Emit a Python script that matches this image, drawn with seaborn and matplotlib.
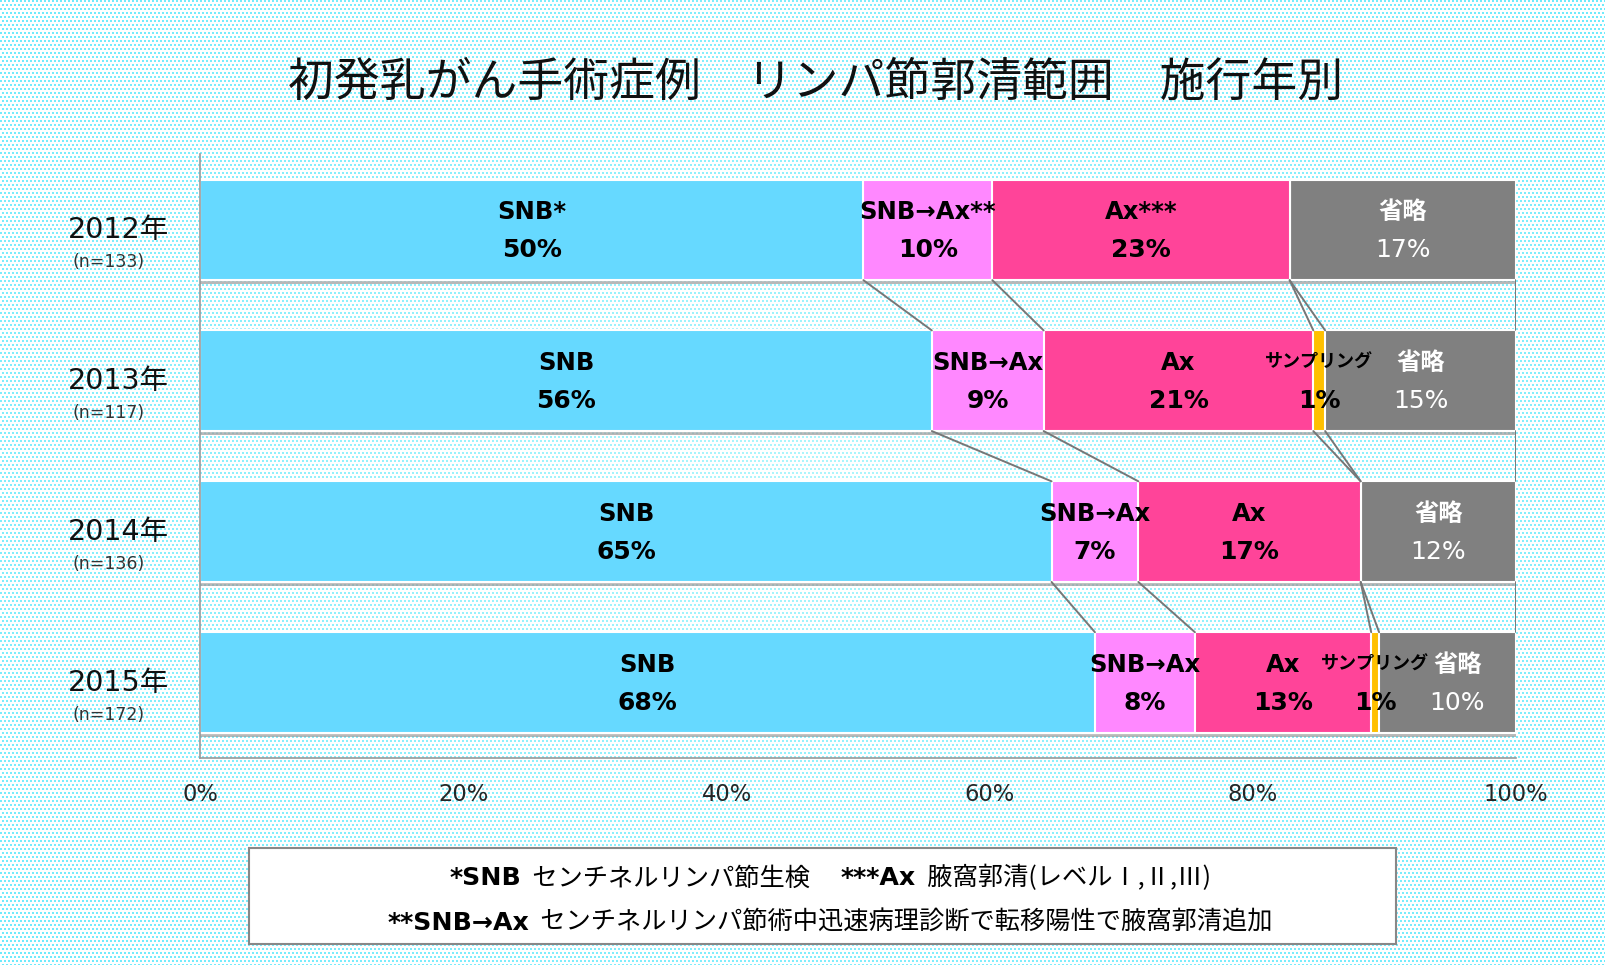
import numpy as np
import pandas as pd
import matplotlib
matplotlib.use("Agg")
import matplotlib.pyplot as plt
import matplotlib.patheffects as pe
from matplotlib.offsetbox import TextArea, HPacker, VPacker, AnnotationBbox
import seaborn as sns

# Values (percent of cases per year)
years = ["2012年", "2013年", "2014年", "2015年"]
n_labels = ["(n=133)", "(n=117)", "(n=136)", "(n=172)"]
snb = [50.4, 55.6, 64.7, 68.0]
snb_ax = [9.8, 8.5, 6.6, 7.6]
ax_only = [22.6, 20.5, 16.9, 13.4]
sampling = [0.0, 0.9, 0.0, 0.6]
omitted = [17.2, 14.5, 11.8, 10.4]

series_names = ["SNB", "SNB→Ax", "Ax", "サンプリング", "省略"]
first_row_names = ["SNB*", "SNB→Ax**", "Ax***", "サンプリング", "省略"]
pct_labels = [
    ["50%", "10%", "23%", "", "17%"],
    ["56%", "9%", "21%", "1%", "15%"],
    ["65%", "7%", "17%", "", "12%"],
    ["68%", "8%", "13%", "1%", "10%"],
]
colors = ["#66D9FF", "#FF88FF", "#FF4499", "#FFC000", "#808080"]
text_colors = ["black", "black", "black", "black", "white"]

title = "初発乳がん手術症例　リンパ節郭清範囲　施行年別"

sns.set_theme(style="white")
latin_first = ["DejaVu Sans", "Noto Sans CJK JP"]
cjk_first = ["Noto Sans CJK JP", "DejaVu Sans"]
plt.rcParams["font.family"] = latin_first

df = pd.DataFrame({"year": years, "SNB": snb, "SNB→Ax": snb_ax, "Ax": ax_only,
                   "サンプリング": sampling, "省略": omitted})
values = df[series_names].to_numpy()
cum = values.cumsum(axis=1)

W, H = 1606, 965
fig = plt.figure(figsize=(W / 100, H / 100), dpi=100)

# background: cyan dot pattern on white, dots a bit lighter towards the middle
yy, xx = np.mgrid[0:H, 0:W]
dots = (yy % 4 < 2) & ((xx + 2 * ((yy // 4) % 2)) % 4 < 2)
r = np.sqrt(((xx / W - 0.5) / 0.5) ** 2 + ((yy / H - 0.5) / 0.5) ** 2) / np.sqrt(2)
r = np.clip(r, 0, 1)[..., None]
dot_mid = np.array([175, 246, 252]) / 255
dot_edge = np.array([110, 234, 252]) / 255
dot_col = dot_mid + (dot_edge - dot_mid) * r
img = np.where(dots[..., None], dot_col, np.ones(3))
fig.figimage(img, xo=0, yo=0, origin="upper", zorder=-10)

ax = fig.add_axes([0.1248, 0.2145, 0.8191, 0.6255])
ax.set_facecolor("none")

bar_h = 0.667
# draw cumulative layers from the full bar down to the first segment
for k in range(len(series_names) - 1, -1, -1):
    n_before = len(ax.patches)
    sns.barplot(x=cum[:, k], y=years, orient="h", color=colors[k], saturation=1,
                width=bar_h, edgecolor="white", linewidth=1.5, ax=ax)
    if k == len(series_names) - 1:
        for p in ax.patches[n_before:]:
            p.set_path_effects([pe.SimplePatchShadow(offset=(0, -3), shadow_rgbFace="#9a9a9a", alpha=0.7),
                                pe.Normal()])

ax.set_xlim(0, 100)
ax.set_ylim(3.5, -0.5)

# series lines between bars
for i in range(len(years) - 1):
    for k in range(len(series_names)):
        ax.plot([cum[i, k], cum[i + 1, k]], [i + bar_h / 2, i + 1 - bar_h / 2],
                color="#777777", lw=1.4, zorder=1)

# segment labels
name_size = {"サンプリング": 13}
label_shift = {(3, 4): 10}  # 2015 省略 label sits a little right of centre
for i in range(len(years)):
    for k in range(len(series_names)):
        if values[i, k] <= 0:
            continue
        xc = cum[i, k] - values[i, k] / 2
        dx = label_shift.get((i, k), 0)
        name = first_row_names[k] if i == 0 else series_names[k]
        ax.annotate(name, (xc, i), xytext=(dx, 18), textcoords="offset pixels",
                    ha="center", va="center", fontsize=name_size.get(series_names[k], 17.5),
                    fontweight="bold", color=text_colors[k], zorder=5)
        ax.annotate(pct_labels[i][k], (xc, i), xytext=(dx, -20), textcoords="offset pixels",
                    ha="center", va="center", fontsize=18,
                    fontweight="normal" if k == 4 else "bold",
                    color=text_colors[k], zorder=5)

# year labels on the left
for i in range(len(years)):
    ax.annotate(years[i], (-0.062, i), xycoords=("axes fraction", "data"),
                xytext=(0, 0), textcoords="offset pixels",
                ha="center", va="center", fontsize=20.5, color="#111111")
    ax.annotate(n_labels[i], (-0.07, i), xycoords=("axes fraction", "data"),
                xytext=(0, -32), textcoords="offset pixels",
                ha="center", va="center", fontsize=12.5, color="#333333")

ax.set_yticks([])
ax.set_ylabel("")
ax.set_xlabel("")
ax.set_xticks(np.arange(0, 101, 20))
ax.set_xticklabels([f"{t}%" for t in range(0, 101, 20)], fontsize=16.3)
ax.tick_params(axis="x", length=0, pad=18)
for s in ["top", "right"]:
    ax.spines[s].set_visible(False)
for s in ["left", "bottom"]:
    ax.spines[s].set_color("#999999")
    ax.spines[s].set_linewidth(1.2)

fig.text(0.508, 0.915, title, ha="center", va="center", fontsize=33,
         color="#111111", family=cjk_first)

# footnote box
box = plt.Rectangle((0.155, 0.022), 0.714, 0.099, transform=fig.transFigure,
                    facecolor="white", edgecolor="#888888", linewidth=1.5)
fig.add_artist(box)

fs = 18.2
bold = dict(fontsize=fs, fontweight="bold", color="black", family=latin_first)
norm = dict(fontsize=fs, color="black", family=cjk_first)
line1 = HPacker(children=[TextArea("*SNB", textprops=bold),
                          TextArea("  センチネルリンパ節生検　 ", textprops=norm),
                          TextArea("***Ax", textprops=bold),
                          TextArea("  腋窩郭清(レベルⅠ,Ⅱ,Ⅲ)", textprops=norm)],
                align="baseline", pad=0, sep=0)
line2 = HPacker(children=[TextArea("**SNB→Ax", textprops=bold),
                          TextArea("  センチネルリンパ節術中迅速病理診断で転移陽性で腋窩郭清追加", textprops=norm)],
                align="baseline", pad=0, sep=0)
packed = VPacker(children=[line1, line2], align="center", pad=0, sep=13)
ab = AnnotationBbox(packed, (0.517, 0.067), xycoords="figure fraction",
                    frameon=False, box_alignment=(0.5, 0.5))
fig.add_artist(ab)

fig.savefig("out.png", dpi=100)
